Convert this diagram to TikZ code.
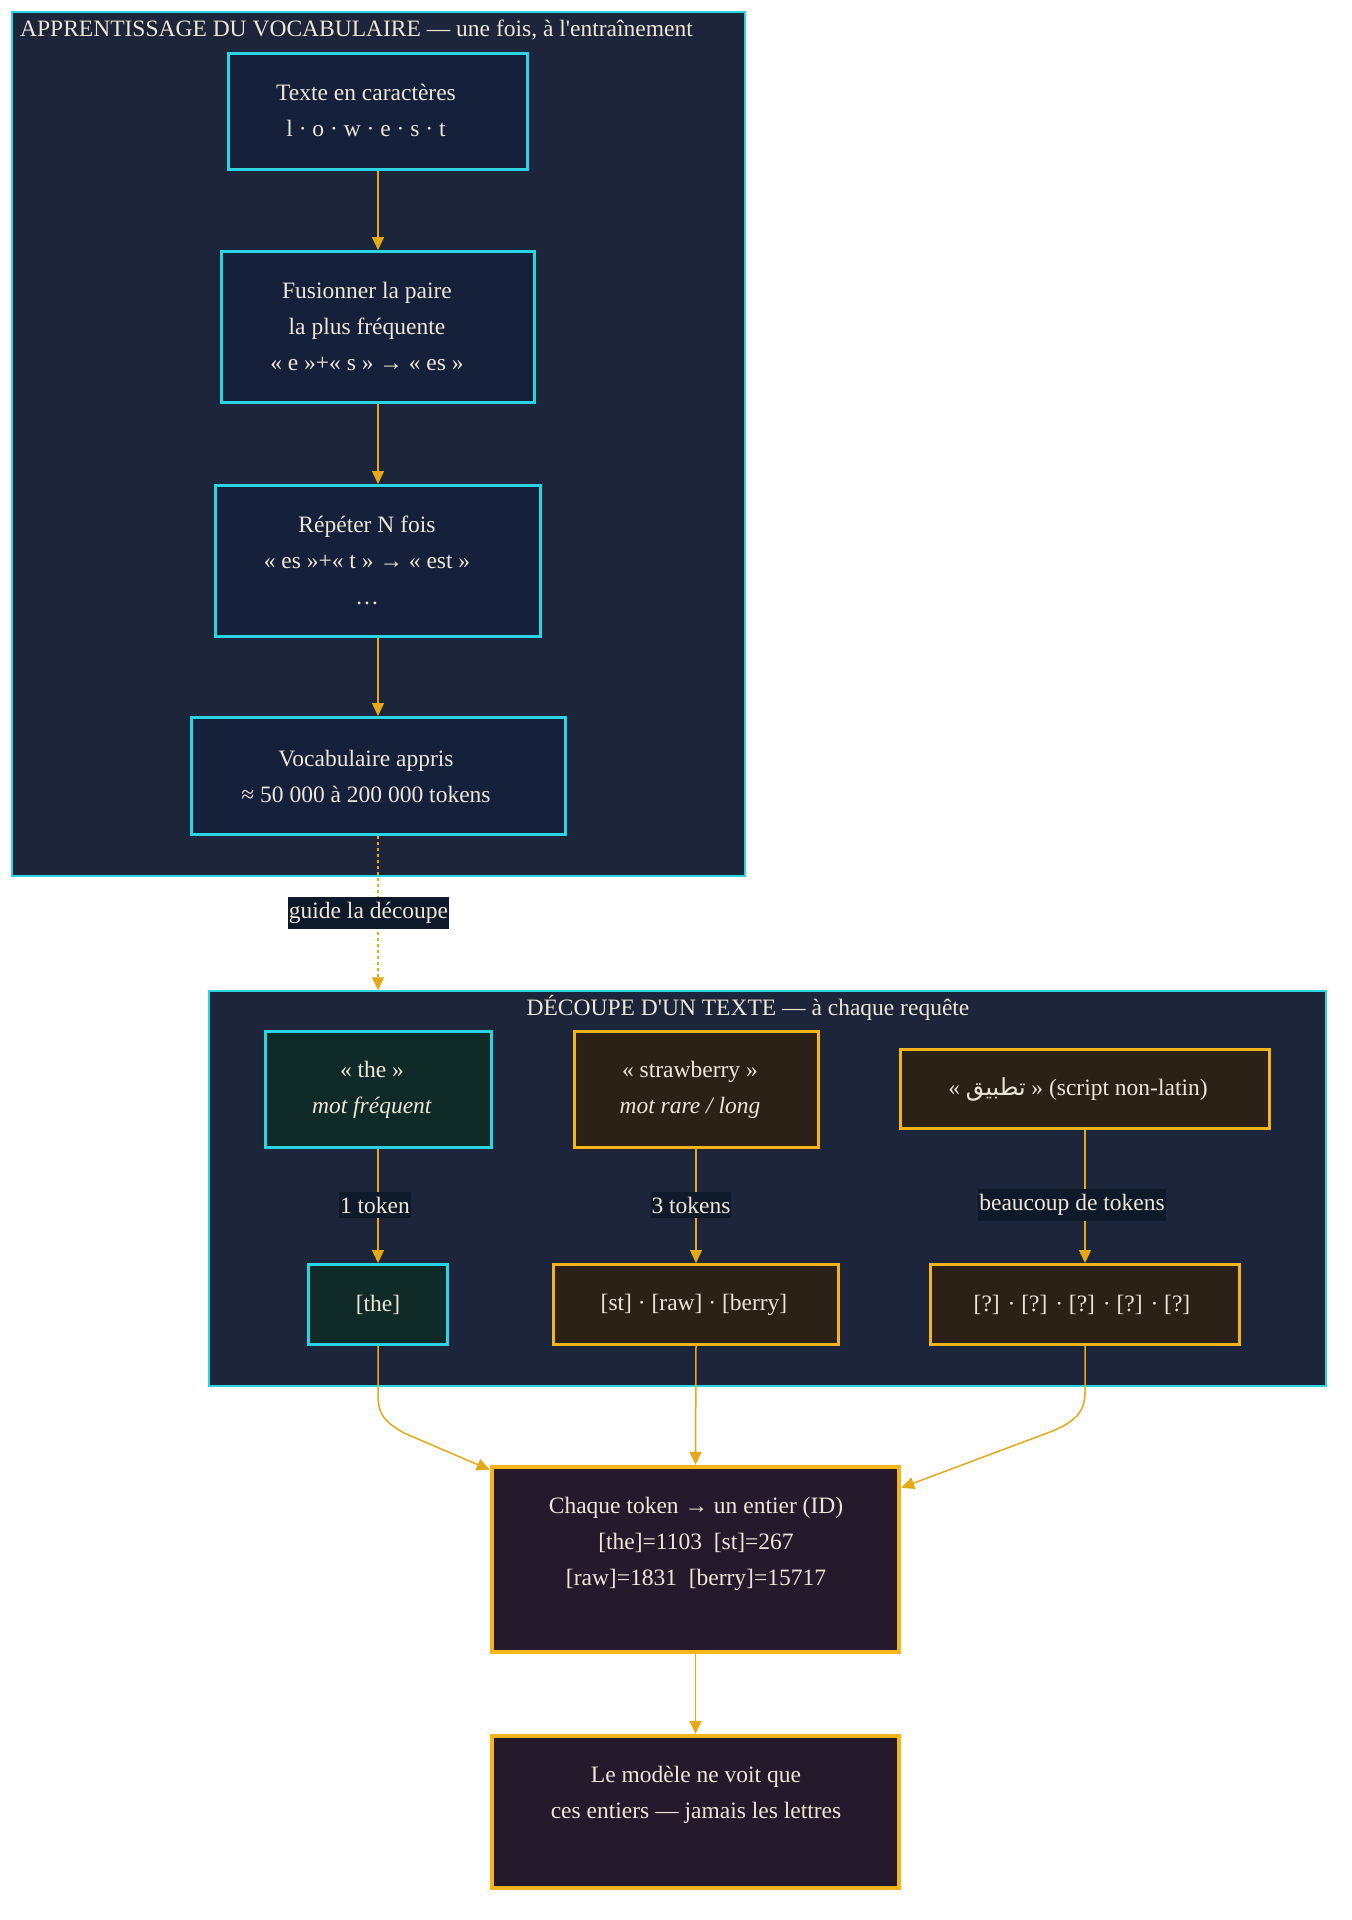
\documentclass[tikz,border=0pt]{standalone}
\usepackage{fontspec}
\setmainfont{Liberation Serif}[Ligatures=TeXOff]
\newfontfamily\arabicfont[Script=Arabic]{DejaVu Sans}
\TeXXeTstate=1
\usetikzlibrary{arrows.meta,calc}
\definecolor{clusterbg}{HTML}{1C2539}
\definecolor{cyanline}{HTML}{2BD4E2}
\definecolor{navynode}{HTML}{15213A}
\definecolor{greennode}{HTML}{0F2A27}
\definecolor{brownnode}{HTML}{2C2117}
\definecolor{purplenode}{HTML}{251A2B}
\definecolor{amber}{HTML}{F4B41A}
\definecolor{edgecol}{HTML}{E5A818}
\definecolor{lblbg}{HTML}{0E1A2A}
\definecolor{txtcol}{HTML}{EEE7D7}
\tikzset{
  cluster/.style={rectangle, draw=cyanline, fill=clusterbg, line width=1.5pt, inner sep=0pt},
  box/.style={rectangle, line width=3pt, inner sep=0pt},
  navybox/.style={box, draw=cyanline, fill=navynode},
  greenbox/.style={box, draw=cyanline, fill=greennode},
  brownbox/.style={box, draw=amber, fill=brownnode},
  purplebox/.style={box, draw=amber, fill=purplenode, line width=4.5pt},
  txt/.style={text=txtcol, font=\fontsize{23.5}{36}\selectfont, align=center, inner sep=0pt},
  lbl/.style={fill=lblbg, text=txtcol, font=\fontsize{23.5}{28}\selectfont, inner xsep=1pt, inner ysep=5pt},
  conn/.style={draw=edgecol, line width=1.5pt, -{Triangle[length=13pt,width=12pt]}},
}
\begin{document}
\begin{tikzpicture}[x=1pt,y=-1pt]
\useasboundingbox (0,0) rectangle (1352,1920);
\fill[white] (0,0) rectangle (1352,1920);

% clusters
\node[cluster, minimum width=733, minimum height=864] (c1) at (378.5,444) {};
\node[txt, anchor=west] (c1t) at (20,30) {APPRENTISSAGE DU VOCABULAIRE — une fois, à l'entraînement};
\node[cluster, minimum width=1117, minimum height=395] (c2) at (767.5,1188.5) {};
\node[txt] (c2t) at (748,1008) {DÉCOUPE D'UN TEXTE — à chaque requête};

% top cluster nodes
\node[navybox, minimum width=299, minimum height=116] (A) at (378,111) {};
\node[txt] (At) at (366,110) {Texte en caractères\\l · o · w · e · s · t};
\node[navybox, minimum width=313, minimum height=151] (B) at (378,327) {};
\node[txt] (Bt) at (367,326) {Fusionner la paire\\la plus fréquente\\« e »+« s » → « es »};
\node[navybox, minimum width=325, minimum height=151] (C) at (378,561) {};
\node[txt] (Ct) at (367,560) {Répéter N fois\\« es »+« t » → « est »\\…};
\node[navybox, minimum width=374, minimum height=117] (D) at (378,776) {};
\node[txt] (Dt) at (366,776) {Vocabulaire appris\\≈ 50 000 à 200 000 tokens};

% second cluster nodes
\node[greenbox, minimum width=226, minimum height=116] (E) at (378,1089.5) {};
\node[txt] (Et) at (372,1090) {« the »\\\textit{mot fréquent}};
\node[brownbox, minimum width=244, minimum height=116] (F) at (696,1089.5) {};
\node[txt] (Ft) at (690,1090) {« strawberry »\\\textit{mot rare / long}};
\node[brownbox, minimum width=369, minimum height=79] (G) at (1085,1089) {};
\node[txt] (Gt) at (1078,1089) {« {\arabicfont\beginR تطبيق\endR} » (script non-latin)};

\node[greenbox, minimum width=139, minimum height=80] (H) at (378,1304.5) {};
\node[txt] (Ht) at (378,1305) {[the]};
\node[brownbox, minimum width=285, minimum height=80] (I) at (696,1304.5) {};
\node[txt] (It) at (694,1305) {[st] · [raw] · [berry]};
\node[brownbox, minimum width=309, minimum height=80] (J) at (1085,1304.5) {};
\node[txt] (Jt) at (1082,1305) {[?] · [?] · [?] · [?] · [?]};

% bottom nodes
\node[purplebox, minimum width=407, minimum height=185] (K) at (695.5,1559.5) {};
\node[txt] (Kt) at (696,1543.5) {Chaque token → un entier (ID)\\{}[the]=1103~~[st]=267\\{}[raw]=1831~~[berry]=15717};
\node[purplebox, minimum width=407, minimum height=152] (L) at (695.5,1812) {};
\node[txt] (Lt) at (696,1794.5) {Le modèle ne voit que\\ces entiers — jamais les lettres};

% edges top cluster
\draw[conn] (A.south) -- (B.north);
\draw[conn] (B.south) -- (C.north);
\draw[conn] (C.south) -- (D.north);
\draw[conn, dash pattern=on 3pt off 3pt] (D.south) -- (D.south |- c2.north);
\node[lbl] (gl) at (368.5,913) {guide la découpe};

% edges second cluster
\draw[conn] (E.south) -- (H.north);
\node[lbl] (l1) at (375,1205) {1 token};
\draw[conn] (F.south) -- (I.north);
\node[lbl] (l2) at (691,1205) {3 tokens};
\draw[conn] (G.south) -- (J.north);
\node[lbl] (l3) at (1072,1205) {beaucoup de tokens};

% to K
\draw[conn] (H.south) -- (378,1395) .. controls (378,1415) and (385,1422) .. (404,1433) -- ($(K.north west)+(0,5)$);
\draw[conn] (I.south) -- (K.north);
\draw[conn] (J.south) -- (1085,1392) .. controls (1085,1412) and (1075,1422) .. (1050,1432) -- ($(K.north east)+(0,23)$);
\draw[conn] (K.south) -- (L.north);
\end{tikzpicture}
\end{document}
